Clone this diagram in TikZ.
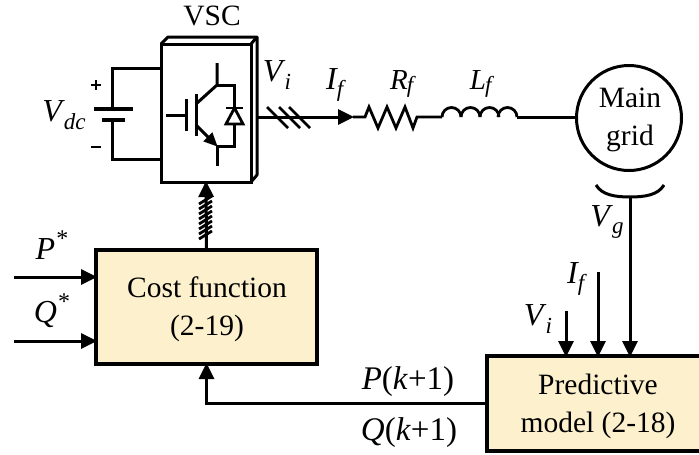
\documentclass[tikz,border=0pt]{standalone}
\usepackage{fontspec}
\setmainfont{Liberation Serif}
\usetikzlibrary{arrows.meta}
\newcommand{\itsub}[2]{\textit{#1}\kern-1pt\raisebox{-0.24em}{\fontsize{23}{23}\selectfont\textit{#2}}}
\newcommand{\itstar}[1]{\textit{#1}\kern1pt\raisebox{0.42em}{\fontsize{24}{24}\selectfont *}}
\definecolor{blockfill}{HTML}{FDF0CC}
\tikzset{
  wire/.style={line width=3pt},
  thin wire/.style={line width=2.8pt},
  arrow/.style={line width=3pt,-{Triangle[length=16pt,width=15pt]},shorten >=-1pt},
  block/.style={draw,line width=3.4pt,fill=blockfill,align=center,inner sep=0pt,outer sep=0pt},
  lab/.style={inner sep=0pt,font=\fontsize{32}{36}\selectfont},
  small lab/.style={inner sep=0pt,font=\fontsize{29}{32}\selectfont},
  txt/.style={inner sep=0pt,align=center,font=\fontsize{29.5}{38}\selectfont}
}
\begin{document}
\begin{tikzpicture}[x=1pt,y=-1pt]
\useasboundingbox (0,0) rectangle (699,455);
% converter
\draw[wire,line join=round] (161,44) -- (168,37) -- (257,37) -- (257,175) -- (251,182);
\draw[wire] (251,44) -- (257,37);
\node[draw,line width=3pt,minimum width=90pt,minimum height=138pt,outer sep=0pt] (vsc) at (206,113) {};
\node[txt] (vsclabel) at (212,16) {VSC};
% dc side
\coordinate (battop) at (112,68);
\coordinate (batbot) at (112,159);
\draw[wire] (vsc.west |- battop) -- (battop) -- (112,109);
\draw[wire] (vsc.west |- batbot) -- (batbot) -- (112,120);
\draw[line width=3.2pt] (94,109) -- (133,109);
\draw[line width=3.2pt] (102,120) -- (125,120);
\draw[line width=2.2pt] (91,85) -- (101,85) (96,80) -- (96,90);
\draw[line width=2.2pt] (91,147) -- (101,147);
\node[lab] (vdc) at (64,115) {\itsub{V}{dc}};
% switch
\draw[wire] (166,115) -- (186,115);
\draw[wire] (186,99) -- (186,131);
\draw[wire] (196,94) -- (196,136);
\draw[wire] (217,63) -- (217,85) -- (196,104);
\draw[wire,-{Triangle[length=14pt,width=12pt]},shorten >=-1pt] (196,125) -- (217,146);
\draw[wire] (217,166) -- (217,146) -- (234,146) -- (234,85) -- (217,85);
\draw[thin wire,fill=white] (226,124) -- (243,124) -- (234.5,108) -- cycle;
\draw[thin wire] (226,108) -- (243,108);
% ac side
\coordinate (vscout) at (257,117);
\coordinate (iftip) at (353,117);
\draw[arrow] (vscout) -- (iftip);
\foreach \x in {267,279,289}
  \draw[thin wire] (\x,107) -- (\x+21,128);
\draw[thin wire,line join=miter] (iftip) -- (365,117) -- (369,107) -- (378,128) -- (387,107) -- (396,128) -- (405,107) -- (413,128) -- (417,117) -- (442,117);
\foreach \x in {442,461,480,498}
  \draw[thin wire] (\x,117) arc[start angle=180,end angle=0,radius=9.5pt];
\node[draw,circle,line width=3pt,minimum size=105pt,inner sep=0pt,outer sep=0pt] (grid) at (629,118) {};
\node[txt] (gridtext) at (630,120) {Main\\grid};
\draw[wire] (517,117) -- (517,117 -| grid.west);
\node[lab] (vi) at (277,75) {\itsub{V}{i}};
\node[lab] (if) at (336,85) {\itsub{I}{f}};
\node[inner sep=0pt,font=\fontsize{29}{32}\selectfont] (rf) at (403,84) {\textit{R}\kern-1pt\raisebox{-0.1em}{\fontsize{23}{23}\selectfont\textit{f}}};
\node[inner sep=0pt,font=\fontsize{29}{32}\selectfont] (lf) at (482,84) {\textit{L}\kern-1pt\raisebox{-0.1em}{\fontsize{23}{23}\selectfont\textit{f}}};
% control blocks
\node[block,minimum width=221pt,minimum height=114pt] (cost) at (206.5,307) {};
\node[txt] (costtext) at (207,309) {Cost function\\(2-19)};
\node[block,minimum width=215pt,minimum height=95pt] (pred) at (594.5,403.5) {};
\node[txt] (predtext) at (598,406) {Predictive\\model (2-18)};
\draw[arrow] (cost.north) -- (vsc.south);
\foreach \y in {200,205,...,235}
  \draw[thin wire] (199,\y+4) -- (212,\y-4);
\draw[arrow] (pred.west) -| (cost.south);
\coordinate (pstart) at (14,277);
\coordinate (qstart) at (14,341);
\draw[arrow] (pstart) -- (pstart -| cost.west);
\draw[arrow] (qstart) -- (qstart -| cost.west);
\node[lab] (pref) at (52,245) {\itstar{P}};
\node[lab] (qref) at (52,311) {\itstar{Q}};
% measurements
\coordinate (vgfoot) at (630,197);
\draw[wire] (596,185) .. controls (602,195) and (615,197) .. (vgfoot) .. controls (645,197) and (658,195) .. (664,185);
\coordinate (vistart) at (566,311);
\coordinate (ifstart) at (598,272);
\draw[arrow] (vgfoot) -- (vgfoot |- pred.north);
\draw[arrow] (ifstart) -- (ifstart |- pred.north);
\draw[arrow] (vistart) -- (vistart |- pred.north);
\node[lab] (vg) at (607,222) {\itsub{V}{g}};
\node[lab] (if2) at (577,279) {\itsub{I}{f}};
\node[lab] (vi2) at (538,319) {\itsub{V}{i}};
\node[inner sep=0pt,font=\fontsize{33}{36}\selectfont] (pnext) at (408,382) {\textit{P}(\textit{k}+1)};
\node[inner sep=0pt,font=\fontsize{33}{36}\selectfont] (qnext) at (409,433) {\textit{Q}(\textit{k}+1)};
\end{tikzpicture}
\end{document}
